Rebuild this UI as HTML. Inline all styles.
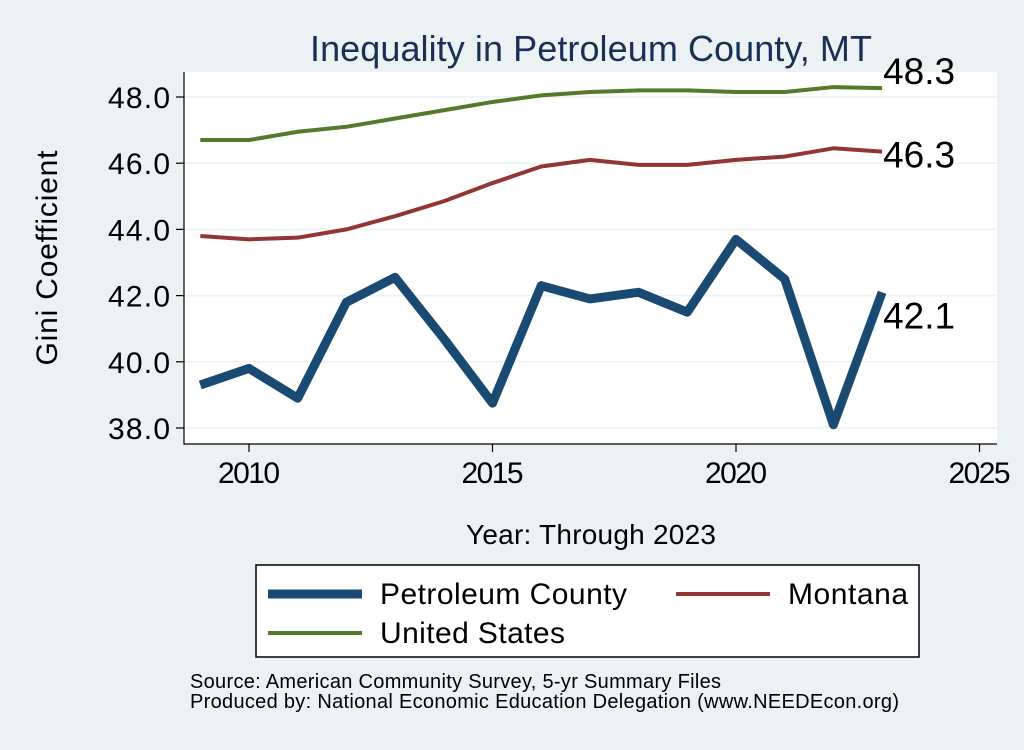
<!DOCTYPE html>
<html><head><meta charset="utf-8"><style>
body{margin:0;background:#eaf2f3;font-family:"Liberation Sans",sans-serif}
</style></head><body>
<svg width="1024" height="745" viewBox="0 0 1024 745" xmlns="http://www.w3.org/2000/svg" font-family="Liberation Sans, sans-serif">
<rect width="1024" height="745" fill="#eaf2f3"/>
<rect x="184" y="72" width="813" height="372" fill="#fff"/>
<text x="591" y="61" font-size="36" fill="#1a2f56" text-anchor="middle" textLength="562">Inequality in Petroleum County, MT</text>
<g id="grid"></g><g id="axes"></g><g id="series"></g>
<text x="57" y="258" font-size="30" text-anchor="middle" textLength="215" transform="rotate(-90 57 258)">Gini Coefficient</text>
<text x="591" y="544" font-size="28" text-anchor="middle" textLength="250">Year: Through 2023</text>
<g>
<rect x="256" y="565" width="663" height="92" fill="#fff" stroke="#000" stroke-width="1.5"/>
<line x1="268" y1="594" x2="362" y2="594" stroke="#1a4a72" stroke-width="9"/>
<text x="380" y="604" font-size="30" textLength="247">Petroleum County</text>
<line x1="676" y1="594" x2="770" y2="594" stroke="#923535" stroke-width="4"/>
<text x="788" y="604" font-size="30" textLength="120">Montana</text>
<line x1="268" y1="633" x2="362" y2="633" stroke="#557a2b" stroke-width="4"/>
<text x="380" y="643" font-size="30" textLength="185">United States</text>
</g>
<text x="190" y="688" font-size="20" textLength="531">Source: American Community Survey, 5-yr Summary Files</text>
<text x="190" y="708" font-size="20" textLength="709">Produced by: National Economic Education Delegation (www.NEEDEcon.org)</text>
</svg>
<script>
const years=[2009,2010,2011,2012,2013,2014,2015,2016,2017,2018,2019,2020,2021,2022,2023];
const county=[39.3,39.8,38.9,41.8,42.55,40.7,38.75,42.3,41.9,42.1,41.5,43.7,42.5,38.1,42.1];
const montana=[43.8,43.7,43.75,44.0,44.4,44.85,45.4,45.9,46.1,45.95,45.95,46.1,46.2,46.45,46.35];
const us=[46.7,46.7,46.95,47.1,47.35,47.6,47.85,48.05,48.15,48.2,48.2,48.15,48.15,48.3,48.27];
const yTicks=[38,40,42,44,46,48];
const xTicks=[2010,2015,2020,2025];
const endLabels=["42.1","46.3","48.3"];
const NS="http://www.w3.org/2000/svg";
const X=v=>249+(v-2010)*48.7;
const Y=v=>428-(v-38)*33.1;
function mk(p,t,a){const e=document.createElementNS(NS,t);for(const k in a)e.setAttribute(k,a[k]);document.getElementById(p).appendChild(e);return e;}
yTicks.forEach(v=>{
 const g=mk('grid','line',{x1:184,x2:997,y1:Y(v),y2:Y(v),stroke:'#eaf2f3','stroke-width':1.5});
 
 
 const t=mk('axes','line',{x1:176,x2:184,y1:Y(v),y2:Y(v),stroke:'#000','stroke-width':1.2});
 
 
 const l=mk('axes','text',{x:170,y:Y(v)+11,'font-size':30,'text-anchor':'end',textLength:62});
 l.textContent=v.toFixed(1);
 
 
});
xTicks.forEach(v=>{
 const t=mk('axes','line',{x1:X(v),x2:X(v),y1:444,y2:452,stroke:'#000','stroke-width':1.2});
 
 
 const l=mk('axes','text',{x:X(v),y:483,'font-size':30,'text-anchor':'middle',textLength:62});
 l.textContent=v;
 
 
});
const ax=mk('axes','path',{d:'M184 72 V444 H997',fill:'none',stroke:'#000','stroke-width':1.2});


const S=[[us,'#557a2b',4,'us-line'],[montana,'#923535',4,'montana-line'],[county,'#1a4a72',9,'county-line']];
S.forEach(([d,c,w,n])=>{
 const p=mk('series','polyline',{points:d.map((v,i)=>X(years[i])+','+Y(v)).join(' '),fill:'none',stroke:c,'stroke-width':w,'stroke-linejoin':'round'});
 
 
});
[[county,endLabels[0],36],[montana,endLabels[1],16],[us,endLabels[2],-4]].forEach(([d,s,off])=>{
 const t=mk('series','text',{x:X(2023)+1,y:Y(d[d.length-1])+off,'font-size':37});
 t.textContent=s;
 
 
});
</script>
</body></html>
